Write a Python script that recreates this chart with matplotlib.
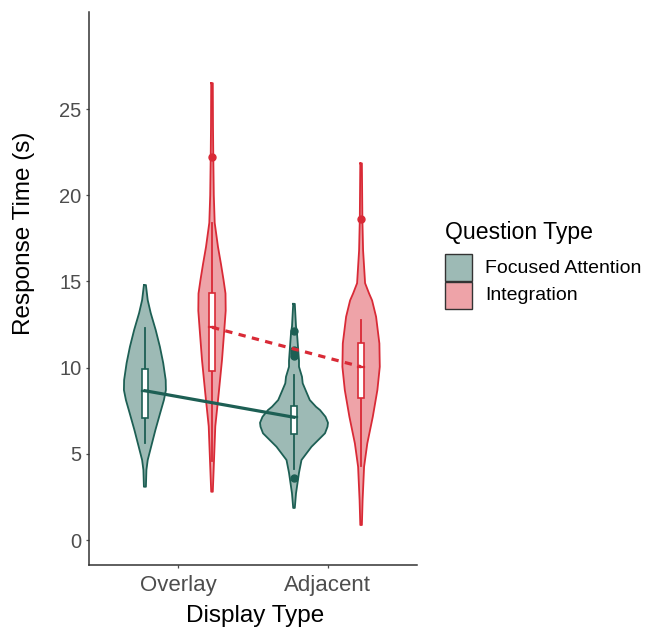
import matplotlib
matplotlib.use("Agg")
import matplotlib.pyplot as plt
import matplotlib.patches as mpatches
import numpy as np

# ── Data ──────────────────────────────────────────────────────────────────────

display_types = ["Overlay", "Adjacent"]
question_types = ["Focused Attention", "Integration"]

# violin outlines: response time levels and relative half-width (density)
fa_overlay_y = [14.79, 13.92, 13.17, 12.18, 11.21, 10.27, 9.28, 8.70, 8.12, 7.37, 6.38, 5.41, 4.64, 4.06, 3.09]
fa_overlay_d = [1.0, 2.8, 5.8, 10.8, 15.0, 18.3, 20.8, 21.0, 19.0, 15.3, 10.5, 6.2, 2.8, 1.5, 1.0]

fa_adjacent_y = [13.70, 12.40, 12.00, 10.40, 10.05, 9.47, 9.09, 8.50, 8.12, 7.73, 7.54, 7.15, 6.80, 6.57, 6.19, 5.41, 4.64, 3.90, 2.70, 1.86]
fa_adjacent_d = [0.8, 2.0, 3.0, 5.0, 5.0, 8.0, 8.7, 13.0, 15.8, 22.0, 26.0, 31.5, 34.0, 33.5, 31.0, 17.5, 7.5, 5.0, 2.0, 0.8]

in_overlay_y = [26.50, 24.00, 22.20, 20.00, 18.40, 17.00, 16.00, 15.10, 14.30, 13.30, 12.35, 10.44, 8.50, 6.60, 4.60, 2.80]
in_overlay_d = [0.8, 1.0, 1.3, 1.8, 2.7, 6.0, 9.0, 11.5, 13.5, 13.7, 12.5, 10.0, 6.7, 3.3, 2.0, 0.8]

in_adjacent_y = [21.85, 18.60, 16.80, 14.90, 14.30, 13.90, 12.95, 11.40, 10.05, 8.70, 7.15, 5.60, 4.25, 2.30, 0.87]
in_adjacent_d = [0.8, 1.3, 2.0, 4.0, 8.0, 11.0, 15.0, 18.3, 18.7, 16.3, 11.7, 6.2, 3.0, 1.5, 0.8]

# box summaries: [lower whisker, q1, median, q3, upper whisker]
fa_box = [[5.60, 7.10, 8.66, 9.90, 12.30], [4.10, 6.15, 7.12, 7.77, 9.57]]
in_box = [[4.60, 9.82, 12.34, 14.30, 18.40], [4.30, 8.25, 10.05, 11.45, 12.76]]

fa_outliers = [[], [12.10, 11.00, 10.85, 10.70, 3.60]]
in_outliers = [[22.20], [18.60]]

fa_means = [8.66, 7.12]
in_means = [12.34, 10.05]

y_ticks = [0, 5, 10, 15, 20, 25]

# ── Style ─────────────────────────────────────────────────────────────────────

_TEAL = "#1D5F54"
_RED = "#D92A36"
_FILL_ALPHA = 0.43
_AXIS = "#333333"
_TICKLBL = "#4D4D4D"

plt.rcParams["font.family"] = ["Liberation Sans", "DejaVu Sans"]

fig = plt.figure(figsize=(6.47, 6.33), dpi=100)
ax = fig.add_axes([89 / 647, 1 - 565 / 633, (417 - 89) / 647, (565 - 12) / 633])

dodge = 0.225
dens_scale = 0.228 / 34.0
box_w = 0.042

groups = [
    (0, [fa_overlay_y, fa_adjacent_y], [fa_overlay_d, fa_adjacent_d], fa_box, fa_outliers, fa_means, _TEAL, "-"),
    (1, [in_overlay_y, in_adjacent_y], [in_overlay_d, in_adjacent_d], in_box, in_outliers, in_means, _RED, (0, (2.3, 2.0))),
]

x_base = np.arange(len(display_types)) + 1.0

for gi, ys, ds, boxes, outs, means, col, ls in groups:
    off = (gi - 0.5) * 2 * dodge
    for k in range(len(display_types)):
        xc = x_base[k] + off
        y = np.array(ys[k])
        hw = np.array(ds[k]) * dens_scale
        ax.fill_betweenx(y, xc - hw, xc + hw, facecolor=col, alpha=_FILL_ALPHA,
                         edgecolor="none", zorder=2)
        ax.plot(np.r_[xc - hw, (xc + hw)[::-1], xc - hw[0]],
                np.r_[y, y[::-1], y[0]], color=col, lw=1.3, zorder=3)

        lo, q1, med, q3, hi = boxes[k]
        ax.plot([xc, xc], [lo, q1], color=col, lw=1.3, zorder=4)
        ax.plot([xc, xc], [q3, hi], color=col, lw=1.3, zorder=4)
        ax.add_patch(mpatches.Rectangle((xc - box_w / 2, q1), box_w, q3 - q1,
                                        facecolor="white", edgecolor=col, lw=1.2, zorder=4))
        ax.plot([xc - box_w / 2, xc + box_w / 2], [med, med], color=col, lw=1.6, zorder=5)
        if outs[k]:
            ax.plot([xc] * len(outs[k]), outs[k], "o", color=col, ms=5, mec=col, zorder=5)

    ax.plot(x_base + off, means, color=col, lw=2.3, linestyle=ls, zorder=6)

# ── Axes ──────────────────────────────────────────────────────────────────────

ax.set_xlim(0.4, 2.6)
ax.set_ylim(-1.45, 30.63)
ax.set_xticks(x_base)
ax.set_xticklabels(display_types)
ax.set_yticks(y_ticks)
ax.tick_params(axis="x", labelsize=16, colors=_TICKLBL, length=2.5, width=0.9, pad=5)
ax.tick_params(axis="y", labelsize=14.5, colors=_TICKLBL, length=2.5, width=0.9, pad=3)
for s in ["top", "right"]:
    ax.spines[s].set_visible(False)
for s in ["left", "bottom"]:
    ax.spines[s].set_color(_AXIS)
    ax.spines[s].set_linewidth(1.1)

fig.text(24 / 647, 1 - 233 / 633, "Response Time (s)", rotation=90, fontsize=17.5,
         ha="center", va="center")
fig.text(255 / 647, 1 - 616 / 633, "Display Type", fontsize=17.5, ha="center", va="center")

# ── Legend ────────────────────────────────────────────────────────────────────

fig.text(445 / 647, 1 - 233 / 633, "Question Type", fontsize=16.6, ha="left", va="center")
for i, (lbl, col) in enumerate(zip(question_types, [_TEAL, _RED])):
    top = 254 + i * 28
    fig.patches.append(mpatches.Rectangle((445 / 647, 1 - (top + 27) / 633), 27 / 647, 27 / 633,
                                          transform=fig.transFigure, facecolor=col,
                                          alpha=_FILL_ALPHA, edgecolor="none"))
    fig.patches.append(mpatches.Rectangle((445 / 647, 1 - (top + 27) / 633), 27 / 647, 27 / 633,
                                          transform=fig.transFigure, facecolor="none",
                                          edgecolor="#333333", lw=1.0))
    fig.text(485 / 647, 1 - (top + 14) / 633, lbl, fontsize=14, ha="left", va="center")

fig.savefig("out.png", dpi=100)
